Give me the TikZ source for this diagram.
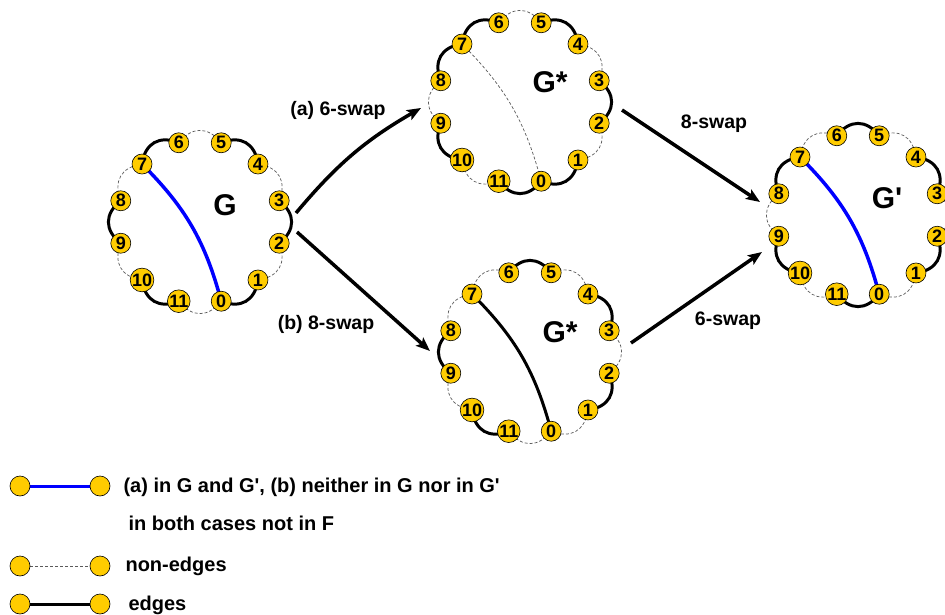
\documentclass[tikz,border=0pt]{standalone}
\usepackage{fontspec}
\setmainfont{Liberation Sans}
\usetikzlibrary{arrows.meta}
\pgfdeclarelayer{bg}
\pgfsetlayers{bg,main}
\definecolor{vfill}{RGB}{255,204,0}
\definecolor{chordblue}{RGB}{0,0,255}
\definecolor{dashgray}{RGB}{90,90,90}
\newcommand\ringedges[2]{%
  \foreach \k/\st in {#2} {%
    \pgfmathtruncatemacro\nx{mod(\k+1,12)}%
    \draw[\st] (#1-\k.center) .. controls +({75-30*\k-53}:21) and +({75-30*\k+23}:21) .. (#1-\nx.center);
  }}
\newcommand\ringnodes[1]{%
  \foreach \k in {0,...,11} \node[vert] (#1-\k) at ({75-30*\k}:82) {\k};}
\newcommand\sq{\textquotesingle}
\begin{document}
\begin{tikzpicture}[x=1pt,y=-1pt,
  vert/.style={circle,draw=black,line width=0.6pt,fill=vfill,minimum size=20pt,inner sep=0pt,
    font=\fontsize{18}{18}\selectfont\bfseries},
  E/.style={line width=3pt,black},
  N/.style={line width=0.7pt,dashgray,dash pattern=on 3pt off 2pt},
  B/.style={line width=3.5pt,chordblue},
  glabel/.style={font=\fontsize{30}{30}\selectfont\bfseries},
  swaplabel/.style={font=\fontsize{19.5}{19.5}\selectfont\bfseries},
  legtext/.style={font=\fontsize{20}{20}\selectfont\bfseries,anchor=west},
  swaparrow/.style={line width=3.5pt,-{Stealth[length=14pt,width=11pt,inset=3pt]}},
]
\useasboundingbox (0,0) rectangle (945,615);
\clip (0,0) rectangle (945,615);

% ---- graph G
\begin{scope}[shift={(200,222)}]
  \ringnodes{g}
\end{scope}
% ---- top G*
\begin{scope}[shift={(520,102)}]
  \ringnodes{t}
\end{scope}
% ---- bottom G*
\begin{scope}[shift={(530,352)}]
  \ringnodes{b}
\end{scope}
% ---- G'
\begin{scope}[shift={(858,215)}]
  \ringnodes{p}
\end{scope}

\begin{pgfonlayer}{bg}
  \ringedges{g}{0/E,1/N,2/E,3/N,4/E,5/N,6/E,7/N,8/E,9/N,10/E,11/N}
  \ringedges{t}{0/E,1/N,2/E,3/N,4/E,5/N,6/E,7/E,8/N,9/E,10/N,11/E}
  \ringedges{b}{0/N,1/E,2/N,3/E,4/N,5/E,6/N,7/N,8/E,9/N,10/E,11/N}
  \ringedges{p}{0/N,1/E,2/N,3/E,4/N,5/E,6/N,7/E,8/N,9/E,10/N,11/E}
  \draw[B] (g-7.center) to[bend left=15] (g-0.center);
  \draw[N] (t-7.center) to[bend left=15] (t-0.center);
  \draw[E] (b-7.center) to[bend left=15] (b-0.center);
  \draw[B] (p-7.center) to[bend left=15] (p-0.center);
\end{pgfonlayer}

\node[glabel] (lg) at (225,205) {G};
\node[glabel] (lt) at (550,82) {G*};
\node[glabel] (lb) at (560,332) {G*};
\node[glabel] (lp) at (887,198) {G\sq};

% ---- arrows
\coordinate (a1) at (296,213);
\coordinate (a2) at (421,108);
\coordinate (b1) at (297,232);
\coordinate (b2) at (430,351);
\coordinate (c1) at (622,110);
\coordinate (c2) at (760,202);
\coordinate (d1) at (631,343);
\coordinate (d2) at (762,252);
\draw[swaparrow] (a1) to[bend left=10] (a2);
\draw[swaparrow] (b1) -- (b2);
\draw[swaparrow] (c1) -- (c2);
\draw[swaparrow] (d1) -- (d2);
\node[swaplabel] (sa) at (338,110) {(a) 6-swap};
\node[swaplabel] (sb) at (326,324) {(b) 8-swap};
\node[swaplabel] (sc) at (714,124) {8-swap};
\node[swaplabel] (sd) at (728,321) {6-swap};

% ---- legend
\node[vert] (l1a) at (20,486) {};
\node[vert] (l1b) at (100,486) {};
\node[vert] (l2a) at (20,566) {};
\node[vert] (l2b) at (100,566) {};
\node[vert] (l3a) at (20,604) {};
\node[vert] (l3b) at (100,604) {};
\begin{pgfonlayer}{bg}
  \draw[B,line width=3pt] (l1a) -- (l1b);
  \draw[N,line width=0.8pt] (l2a) -- (l2b);
  \draw[E] (l3a) -- (l3b);
\end{pgfonlayer}
\node[legtext] (t1) at (120,487) {(a) in G and G\sq, (b) neither in G nor in G\sq};
\node[legtext] (t2) at (125,523) {in both cases not in F};
\node[legtext] (t3) at (122,566) {non-edges};
\node[legtext] (t4) at (125,605) {edges};
\end{tikzpicture}
\end{document}
